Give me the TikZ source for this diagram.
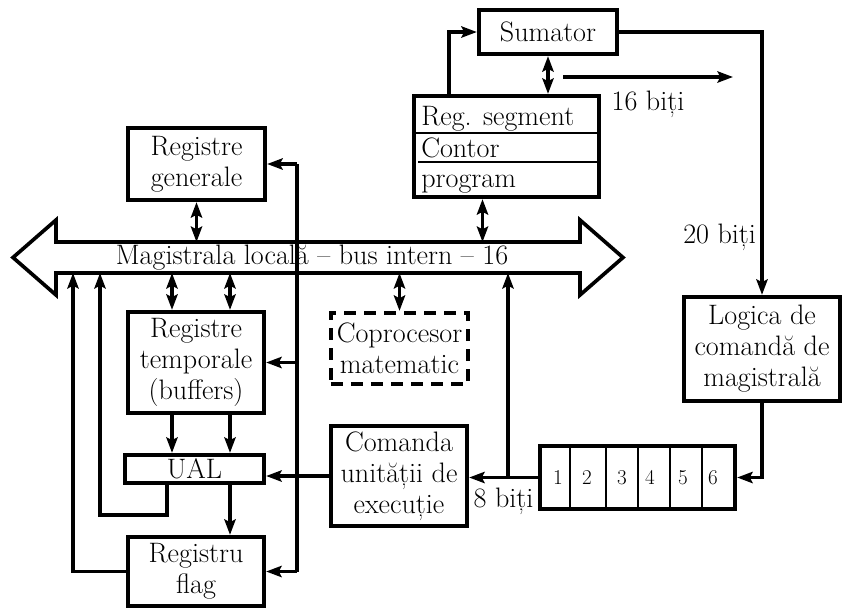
\documentclass[tikz,border=0pt]{standalone}
\usepackage{fontspec}
\usetikzlibrary{arrows.meta,positioning}

\begin{document}
\begin{tikzpicture}[x=0.025cm, y=-0.025cm, >={Stealth[length=11pt,width=8pt,inset=2pt]},
		font=\fontsize{20}{22}\selectfont, every node/.style={inner sep=0pt},
		box/.style={draw, line width=3pt, align=center},
		wire/.style={line width=2.6pt}]
		\useasboundingbox (0,0) rectangle (843,608);
		% magistrala
		\draw[wire, fill=white] (56,242) -- (580,242) -- (580,220) -- (623,257.5) -- (580,295) -- (580,273)
			-- (56,273) -- (56,295) -- (13,257.5) -- (56,220) -- cycle;
		\node (bus) at (312,257.5) {Magistrala locală -- bus intern -- 16};
		\coordinate (bt) at (0,242);
		\coordinate (bb) at (0,273);
		% blocuri
		\node[box, minimum width=3.425cm, minimum height=1.8cm] (gen) at (196.5,164) {Registre\\generale};
		\node[box, minimum width=3.4cm, minimum height=2.525cm] (tmp) at (196,362.5) {Registre\\temporale\\(buffers)};
		\node[box, minimum width=3.475cm, minimum height=0.7cm] (ual) at (194.5,469) {UAL};
		\node[box, minimum width=3.4cm, minimum height=1.725cm] (flag) at (196,571.5) {Registru\\flag};
		\node[box, minimum width=3.45cm, minimum height=1.1cm] (sum) at (548,32) {Sumator};
		\node[box, minimum width=4.625cm, minimum height=2.525cm] (seg) at (506.5,146.5) {};
		\node[box, dash pattern=on 0.3cm off 0.2cm, minimum width=3.425cm, minimum height=1.775cm] (cop) at (399.5,348.5) {Coprocesor\\matematic};
		\node[box, minimum width=3.4cm, minimum height=2.5cm] (cmd) at (399,476) {Comanda\\unității de\\execuție};
		\node[box, minimum width=3.9cm, minimum height=2.6cm] (log) at (762,349) {Logica de\\comandă de\\magistrală};
		\node[box, minimum width=4.875cm, minimum height=1.575cm] (q) at (637.5,477.5) {};
		% registre segment
		\draw[line width=2pt] (seg.west |- 0,133) -- (seg.east |- 0,133);
		\draw[line width=2pt] (418,162) -- (seg.east |- 0,162);
		\node[anchor=base west] (s1) at (421,125) {Reg. segment};
		\node[anchor=base west] (s2) at (421,157) {Contor};
		\node[anchor=base west] (s3) at (421,187) {program};
		% coada
		\foreach \x in {570,606,638,670,702}
			\draw[line width=0.8pt] (\x,446) -- (\x,509);
		\foreach \n/\x in {1/558,2/587,3/622,4/650,5/683,6/713}
			\node[font=\fontsize{15}{17}\selectfont] (c\n) at (\x,477.5) {\n};
		% legaturi
		\coordinate (ca) at (172,0);
		\coordinate (cb) at (230,0);
		\draw[wire, <->] (gen.south) -- (gen.south |- bt);
		\draw[wire, <->] (tmp.north -| ca) -- (ca |- bb);
		\draw[wire, <->] (tmp.north -| cb) -- (cb |- bb);
		\draw[wire, ->] (tmp.south -| ca) -- (ual.north -| ca);
		\draw[wire, ->] (tmp.south -| cb) -- (ual.north -| cb);
		\draw[wire, ->] (ual.south -| cb) -- (flag.north -| cb);
		\draw[wire, <->] (cop.north) -- (cop.north |- bb);
		\draw[wire, <->] ([xshift=-0.6cm]seg.south) -- ([xshift=-0.6cm]seg.south |- bt);
		\coordinate (vt) at (297,164);
		\coordinate (vb) at (297,571.5);
		\draw[wire] (vt) -- (vb);
		\draw[wire, ->] (vt) -- (gen.east);
		\draw[wire, ->] (vt |- tmp.east) -- (tmp.east);
		\draw[wire, ->] (vb) -- (flag.east);
		\coordinate (la) at (73,0);
		\coordinate (lb) at (100,0);
		\coordinate (ub) at (167,515);
		\draw[wire, ->] (flag.west) -| (la |- bb);
		\draw[wire, ->] (ual.south -| ub) -- (ub) -| (lb |- bb);
		\draw[wire, ->] (cmd.west) -- (cmd.west -| ual.east);
		\draw[wire, ->] (q.west) -- (q.west -| cmd.east) node[midway, below=0.22cm] (b8) {8 biți};
		\coordinate (jn) at (508,477.5);
		\draw[wire, ->] (jn) -- (jn |- bb);
		\draw[wire, ->] (log.south) |- (q.east);
		\draw[wire, ->] (sum.east) -| (log.north) node[pos=0.89, left=3pt] (b20) {20 biți};
		\draw[wire, ->] ([xshift=0.925cm]seg.north west) |- (sum.west);
		\draw[wire, <->] (sum.south) -- (sum.south |- seg.north);
		\coordinate (o1) at (563,77);
		\coordinate (o2) at (733,77);
		\draw[wire, ->] (o1) -- (o2) node[midway, below=0.3cm] (b16) {16 biți};
	\end{tikzpicture}
\end{document}
